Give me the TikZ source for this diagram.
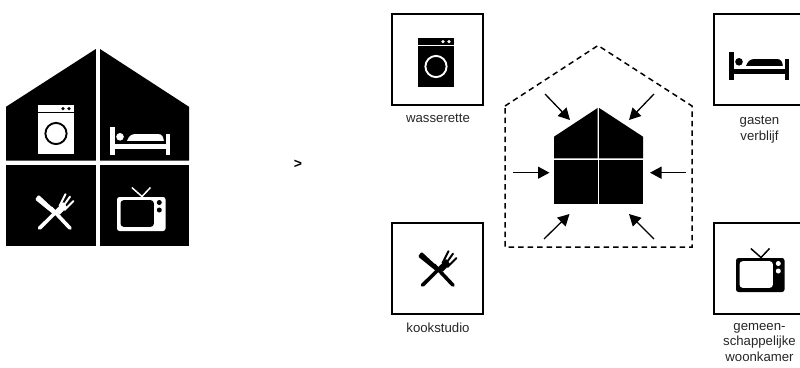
\documentclass[tikz,border=0pt]{standalone}
\usepackage{fontspec}
\setmainfont{Liberation Sans}
\usetikzlibrary{arrows.meta}
\tikzset{
  tile/.style={draw=black,line width=1.3pt,fill=white,minimum width=91pt,minimum height=91pt,inner sep=0pt,outer sep=0pt,anchor=north west},
  caption/.style={font=\fontsize{13.2}{15.5}\selectfont,text=black!85,align=center,inner sep=0pt,anchor=north},
  flow/.style={line width=1.3pt,-{Triangle[length=11.5pt,width=12pt]},shorten >=0pt},
  dashedhouse/.style={line width=1.5pt,dash pattern=on 5.5pt off 4pt},
}
\newcommand{\washericon}[4]{% x y fg bg
  \begin{scope}[shift={(#1,#2)}]
    \fill[#3] (0,0) rectangle (36,7.2);
    \fill[#3] (0,8.4) rectangle (36,48.5);
    \fill[#4] (25,3.6) circle (1.8) (31,3.6) circle (1.8);
    \draw[#4,line width=1.9pt] (18,28.5) circle (10.6);
  \end{scope}}
\newcommand{\bedicon}[3]{% x y fg
  \begin{scope}[shift={(#1,#2)}]
    \fill[#3] (0,0) rectangle (4.6,27.5);
    \fill[#3] (55.5,6.5) rectangle (60,27.5);
    \fill[#3] (0,16.5) rectangle (60,21.5);
    \fill[#3] (10,9.8) circle (3.8);
    \fill[#3] (17,13.9) .. controls (19,9) and (21,7) .. (26,7) -- (48,7) .. controls (52,7) and (53.5,10) .. (53.8,13.9) -- cycle;
  \end{scope}}
\newcommand{\cutleryicon}[3]{% x y fg
  \begin{scope}[shift={(#1,#2)}]
    \fill[#3,rounded corners=1.2pt] (0,6.5) -- (3.6,1.8) -- (21,18) -- (18,21) -- cycle;
    \draw[#3,line width=3.6pt,line cap=round] (16,15) -- (35,35.2);
    \draw[#3,line width=3.6pt,line cap=round] (4.5,35.2) -- (24,16);
    \fill[#3] (20,18) -- (28,9) -- (32,14) -- (25,21.5) -- cycle;
    \draw[#3,line width=2pt,line cap=round] (24.5,13) -- (30.5,1.2)
       (27,15) -- (35,3.6) (29.5,17) -- (38.5,8);
  \end{scope}}
\newcommand{\tvicon}[4]{% x y fg bg
  \begin{scope}[shift={(#1,#2)}]
    \draw[#3,line width=1.5pt] (14.8,0.5) -- (25,9.5) -- (33.5,0.5);
    \fill[#3,rounded corners=2.5pt] (0,10) rectangle (48.5,44);
    \fill[#4,rounded corners=3pt] (3.6,13.2) rectangle (36.8,39.8);
    \fill[#4] (42.3,15.5) circle (2.5) (42.3,23) circle (2.5);
  \end{scope}}
\begin{document}
\begin{tikzpicture}[x=1pt,y=-1pt]
\useasboundingbox (0,0) rectangle (800,367);
% large house
\fill[black] (6,106.8) -- (95.8,49) -- (95.8,160.7) -- (6,160.7) -- cycle;
\fill[black] (100,49) -- (189,106.8) -- (189,160.7) -- (100,160.7) -- cycle;
\fill[black] (6,164.8) rectangle (95.8,246);
\fill[black] (100,164.8) rectangle (189,246);
\washericon{38}{105}{white}{black}
\bedicon{110}{127}{white}
\cutleryicon{35}{193}{white}
\tvicon{117}{187}{white}{black}
% greater-than sign
\node[font=\fontsize{14}{14}\bfseries\selectfont,inner sep=0pt] (gt) at (298,164) {>};
% tiles
\node[tile] (t1) at (392,14) {};
\node[tile] (t2) at (714,14) {};
\node[tile] (t3) at (392,223) {};
\node[tile] (t4) at (714,223) {};
\washericon{418}{38}{black}{white}
\bedicon{729}{52}{black}
\cutleryicon{418}{250}{black}
\tvicon{736}{248}{black}{white}
\node[caption] (c1) at (438,114) {wasserette};
\node[caption] (c2) at (759.5,116) {gasten\\verblijf};
\node[caption] (c3) at (438,323) {kookstudio};
\node[caption] (c4) at (759.5,323) {gemeen-\\schappelijke\\woonkamer};
% dashed outline
\draw[dashedhouse] (505,106) -- (598,45.5) -- (692,106) -- (692,247) -- (505,247) -- cycle;
% small house
\fill[black] (554,136.7) -- (597.6,108) -- (597.6,158.3) -- (554,158.3) -- cycle;
\fill[black] (599.2,108) -- (643,136.7) -- (643,158.3) -- (599.2,158.3) -- cycle;
\fill[black] (554,160) rectangle (597.6,204);
\fill[black] (599.2,160) rectangle (643,204);
% arrows
\coordinate (a1s) at (545,94);     \coordinate (a1e) at (570,120);
\coordinate (a2s) at (654,94);     \coordinate (a2e) at (629,120);
\coordinate (a3s) at (513,172.7);  \coordinate (a3e) at (549.5,172.7);
\coordinate (a4s) at (686,172.7);  \coordinate (a4e) at (650,172.7);
\coordinate (a5s) at (544,239);    \coordinate (a5e) at (569.5,214);
\coordinate (a6s) at (654,239);    \coordinate (a6e) at (629,214);
\foreach \n in {1,...,6} \draw[flow] (a\n s) -- (a\n e);
\end{tikzpicture}
\end{document}
